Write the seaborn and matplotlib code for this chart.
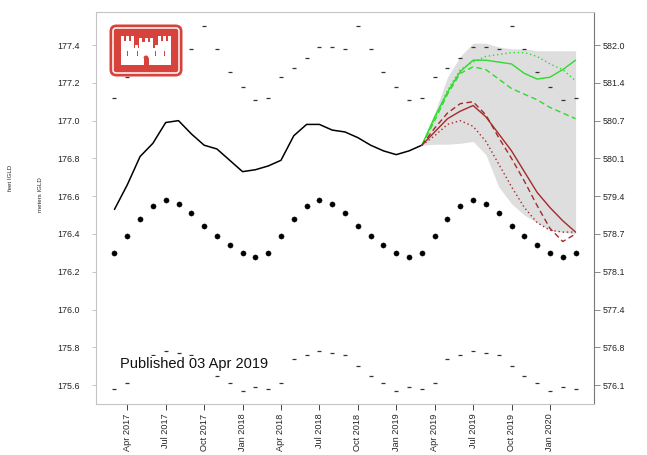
import numpy as np
import pandas as pd
import matplotlib
matplotlib.use("Agg")
import matplotlib.pyplot as plt
import seaborn as sns
from matplotlib.patches import FancyBboxPatch, Rectangle, Wedge

# monthly values Mar 2017 .. Mar 2020 (metres IGLD)
mean_lvl = [176.30, 176.39, 176.48, 176.55, 176.58, 176.56, 176.51, 176.44, 176.39, 176.34, 176.30, 176.28,
            176.30, 176.39, 176.48, 176.55, 176.58, 176.56, 176.51, 176.44, 176.39, 176.34, 176.30, 176.28,
            176.30, 176.39, 176.48, 176.55, 176.58, 176.56, 176.51, 176.44, 176.39, 176.34, 176.30, 176.28,
            176.30]
max_lvl = [177.12, 177.23, 177.28, 177.33, 177.39, 177.39, 177.38, 177.50, 177.38, 177.26, 177.18, 177.11,
           177.12, 177.23, 177.28, 177.33, 177.39, 177.39, 177.38, 177.50, 177.38, 177.26, 177.18, 177.11,
           177.12, 177.23, 177.28, 177.33, 177.39, 177.39, 177.38, 177.50, 177.38, 177.26, 177.18, 177.11,
           177.12]
min_lvl = [175.58, 175.61, 175.74, 175.76, 175.78, 175.77, 175.76, 175.70, 175.65, 175.61, 175.57, 175.59,
           175.58, 175.61, 175.74, 175.76, 175.78, 175.77, 175.76, 175.70, 175.65, 175.61, 175.57, 175.59,
           175.58, 175.61, 175.74, 175.76, 175.78, 175.77, 175.76, 175.70, 175.65, 175.61, 175.57, 175.59,
           175.58]
observed = [176.53, 176.66, 176.81, 176.88, 176.99, 177.00, 176.93, 176.87, 176.85, 176.79, 176.73, 176.74,
            176.76, 176.79, 176.92, 176.98, 176.98, 176.95, 176.94, 176.91, 176.87, 176.84, 176.82, 176.84,
            176.87]

# forecast Mar 2019 .. Mar 2020
band_hi = [176.87, 177.04, 177.23, 177.34, 177.41, 177.41, 177.39, 177.38, 177.38, 177.37, 177.37, 177.37, 177.37]
band_lo = [176.87, 176.875, 176.875, 176.88, 176.89, 176.82, 176.65, 176.56, 176.50, 176.46, 176.42, 176.41, 176.40]
green_solid = [176.87, 177.02, 177.15, 177.26, 177.32, 177.32, 177.31, 177.30, 177.25, 177.22, 177.23, 177.27, 177.32]
green_dash = [176.87, 177.00, 177.14, 177.25, 177.285, 177.27, 177.22, 177.17, 177.14, 177.11, 177.07, 177.04, 177.01]
green_dot = [176.87, 177.01, 177.16, 177.27, 177.31, 177.34, 177.35, 177.36, 177.36, 177.34, 177.30, 177.27, 177.21]
red_solid = [176.87, 176.94, 177.01, 177.05, 177.08, 177.02, 176.93, 176.84, 176.73, 176.62, 176.54, 176.47, 176.41]
red_dash = [176.87, 176.96, 177.04, 177.09, 177.10, 177.03, 176.91, 176.80, 176.68, 176.55, 176.43, 176.36, 176.40]
red_dot = [176.87, 176.92, 176.98, 177.00, 176.97, 176.89, 176.77, 176.65, 176.54, 176.46, 176.42, 176.41, 176.41]

x_tick_pos = [1, 4, 7, 10, 13, 16, 19, 22, 25, 28, 31, 34]
x_tick_labels = ["Apr 2017", "Jul 2017", "Oct 2017", "Jan 2018", "Apr 2018", "Jul 2018",
                 "Oct 2018", "Jan 2019", "Apr 2019", "Jul 2019", "Oct 2019", "Jan 2020"]
y_ticks = [175.6, 175.8, 176.0, 176.2, 176.4, 176.6, 176.8, 177.0, 177.2, 177.4]
feet_labels = ["576.1", "576.8", "577.4", "578.1", "578.7", "579.4", "580.1", "580.7", "581.4", "582.0"]

sns.set_theme(style="white")
plt.rcParams['font.family'] = ['Liberation Sans', 'DejaVu Sans']

months = np.arange(len(mean_lvl))
obs_x = months[:len(observed)]
fc_x = months[len(observed) - 1:]

fig = plt.figure(figsize=(6.47, 4.55), dpi=100)
ax = fig.add_axes([0.1484, 0.1121, 0.7697, 0.8615])

green = "#2EDB2E"
brown = "#A52A2A"

ax.fill_between(fc_x, band_lo, band_hi, color="#DEDEDE", lw=0, zorder=1)

sns.scatterplot(x=months, y=max_lvl, ax=ax, marker="_", s=12, color="#333333", linewidth=0.9, zorder=2)
sns.scatterplot(x=months, y=min_lvl, ax=ax, marker="_", s=12, color="#333333", linewidth=0.9, zorder=2)
sns.scatterplot(x=months, y=mean_lvl, ax=ax, marker="o", s=14, color="black", edgecolor="black",
                linewidth=0.3, zorder=3)

sns.lineplot(x=obs_x, y=observed, ax=ax, color="black", lw=1.1, zorder=4)

fc = pd.DataFrame({"m": fc_x})
for vals, col, ls in [(green_dash, green, (0, (4, 2.5))), (green_dot, green, (0, (1, 2))),
                      (green_solid, green, "-"), (red_dash, brown, (0, (4, 2.5))),
                      (red_dot, brown, (0, (1, 2))), (red_solid, brown, "-")]:
    sns.lineplot(x=fc["m"], y=vals, ax=ax, color=col, lw=1.0, linestyle=ls, zorder=5)

ax.set_xlim(-1.44, 37.44)
ax.set_ylim(175.50, 177.575)
ax.set_xticks(x_tick_pos)
ax.set_xticklabels(x_tick_labels, rotation=90, fontsize=6.6)
ax.set_yticks(y_ticks)
ax.set_yticklabels([f"{v:.1f}" for v in y_ticks], fontsize=6.4, color="#222222")
ax.set_xlabel("")
ax.set_ylabel("")
ax.tick_params(axis="y", length=3, width=0.6, color="#BBBBBB", pad=9, left=True)
ax.tick_params(axis="x", length=4, width=0.7, color="#444444", pad=3, bottom=True)

for side in ["left", "top", "bottom"]:
    ax.spines[side].set_color("#C4C4C4")
    ax.spines[side].set_linewidth(0.8)
ax.spines["right"].set_color("#777777")
ax.spines["right"].set_linewidth(0.8)

ax2 = ax.twinx()
ax2.set_ylim(ax.get_ylim())
ax2.set_yticks(y_ticks)
ax2.set_yticklabels(feet_labels, fontsize=6.4, color="#222222")
ax2.tick_params(axis="y", length=4, width=0.6, color="#777777", pad=2.5, right=True)
for side in ["left", "top", "bottom", "right"]:
    ax2.spines[side].set_visible(False)
ax2.grid(False)
ax.grid(False)

ax.text(0.048, 0.102, "Published 03 Apr 2019", transform=ax.transAxes, fontsize=10.5,
        ha="left", va="center", color="#111111", zorder=10,
        bbox=dict(facecolor="white", edgecolor="none", pad=0.5))

fig.text(10 / 647, 1 - 178 / 455, "feet IGLD", rotation=90, fontsize=4.4, ha="center", va="center")
fig.text(40 / 647, 1 - 195 / 455, "meters IGLD", rotation=90, fontsize=4.4, ha="center", va="center")

# USACE castle logo
lg = fig.add_axes([109 / 647, 1 - 77 / 455, 74 / 647, 53 / 455])
lg.set_xlim(0, 74)
lg.set_ylim(0, 53)
lg.axis("off")
red = "#D7433C"
lg.add_patch(FancyBboxPatch((0.5, 0.5), 73, 52, boxstyle="round,pad=0,rounding_size=7",
                            fc=red, ec="none"))
lg.add_patch(FancyBboxPatch((4, 4), 66, 45, boxstyle="round,pad=0,rounding_size=3",
                            fc="none", ec="white", lw=1.1))
white = "white"
for rect in [(12, 12, 50, 17), (12, 12, 13, 24), (49, 12, 13, 24), (30, 12, 14, 23)]:
    lg.add_patch(Rectangle(rect[:2], rect[2], rect[3], fc=white, ec="none"))
for mx in [12, 17, 22, 49, 54, 59]:
    lg.add_patch(Rectangle((mx, 36), 3, 5, fc=white, ec="none"))
for mx in [30, 35.5, 41]:
    lg.add_patch(Rectangle((mx, 35), 3, 4, fc=white, ec="none"))
for mx in [25.5, 45.5]:
    lg.add_patch(Rectangle((mx, 29), 3, 3, fc=white, ec="none"))
lg.add_patch(Rectangle((34.5, 12), 5, 7, fc=red, ec="none"))
lg.add_patch(Wedge((37, 19), 2.5, 0, 180, fc=red, ec="none"))
for wx in [17.5, 54.5, 27.5, 45.5]:
    lg.add_patch(Rectangle((wx, 21), 1.6, 5, fc=red, ec="none"))

fig.savefig("out.png", dpi=100)
